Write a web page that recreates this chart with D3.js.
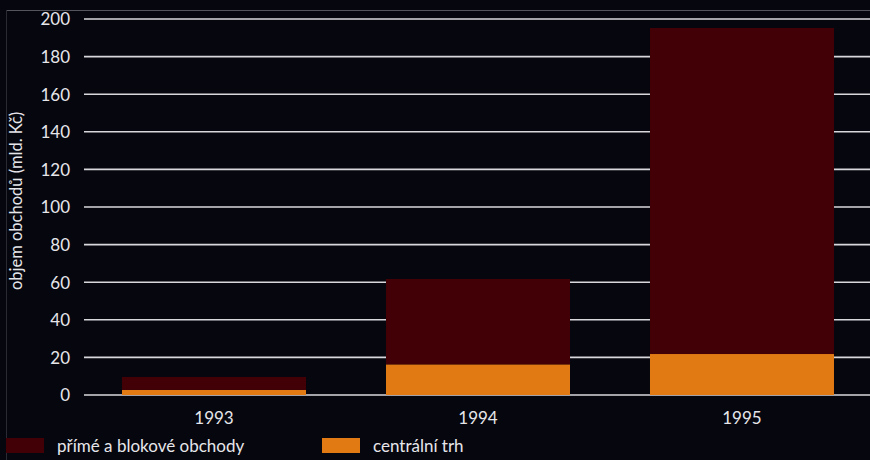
<!DOCTYPE html>
<html>
<head>
<meta charset="utf-8">
<script src="https://cdnjs.cloudflare.com/ajax/libs/d3/7.8.5/d3.min.js"></script>
<style>
  html, body { margin: 0; padding: 0; background: #06060f; }
  svg { display: block; }
  text { font-family: "Lato", "Noto Sans", sans-serif; fill: #e6e6ea; }
</style>
</head>
<body>
<div id="chart"></div>
<script>
// data
var years = ["1993", "1994", "1995"];
var centralni = [2.7, 16.3, 21.8];
var prime = [6.9, 45.4, 173.4];
var seriesNames = ["přímé a blokové obchody", "centrální trh"];
var seriesColors = ["#420006", "#e27a14"];
var yTicks = [0, 20, 40, 60, 80, 100, 120, 140, 160, 180, 200];

var W = 870, H = 460;
var svg = d3.select("#chart").append("svg")
    .attr("width", W)
    .attr("height", H);

svg.append("rect").attr("width", W).attr("height", H).attr("fill", "#06060f");

// thin frame lines top / left
svg.append("line").attr("x1", 6).attr("x2", W).attr("y1", 10.5).attr("y2", 10.5)
    .attr("stroke", "#55555e").attr("stroke-width", 1);
svg.append("line").attr("x1", 6.5).attr("x2", 6.5).attr("y1", 10).attr("y2", H)
    .attr("stroke", "#2a2a34").attr("stroke-width", 1);

var x = d3.scaleBand()
    .domain(years)
    .range([84, 872])
    .paddingInner(0.303)
    .paddingOuter(0.144);

var y = d3.scaleLinear()
    .domain([0, 200])
    .range([395, 19]);

// gridlines
svg.append("g")
    .selectAll("line")
    .data(yTicks)
    .enter()
    .append("line")
    .attr("x1", 84).attr("x2", W)
    .attr("y1", d => y(d)).attr("y2", d => y(d))
    .attr("stroke", "#d8d8dc")
    .attr("stroke-width", 1.6);

// y axis labels
var yAxis = d3.axisLeft(y).tickValues(yTicks).tickSize(0).tickPadding(0);
var gy = svg.append("g").attr("transform", "translate(70,0)").call(yAxis);
gy.select(".domain").remove();
gy.selectAll("text")
    .attr("font-size", 17)
    .attr("dy", "0.35em")
    .style("font-family", '"Lato", "Noto Sans", sans-serif')
    .attr("fill", "#e6e6ea");

// stacked bars
var stackData = years.map((yr, i) => ({ year: yr, centralni: centralni[i], prime: prime[i] }));
var stack = d3.stack().keys(["centralni", "prime"]);
var layers = stack(stackData);
var layerColors = { centralni: seriesColors[1], prime: seriesColors[0] };

svg.append("g")
    .selectAll("g")
    .data(layers)
    .enter()
    .append("g")
    .attr("fill", d => layerColors[d.key])
    .selectAll("rect")
    .data(d => d)
    .enter()
    .append("rect")
    .attr("x", d => x(d.data.year))
    .attr("width", x.bandwidth())
    .attr("y", d => y(d[1]))
    .attr("height", d => y(d[0]) - y(d[1]));

// x labels
svg.append("g")
    .selectAll("text")
    .data(years)
    .enter()
    .append("text")
    .attr("x", d => x(d) + x.bandwidth() / 2)
    .attr("y", 424)
    .attr("text-anchor", "middle")
    .attr("font-size", 17)
    .text(d => d);

// y title
svg.append("text")
    .attr("transform", "translate(22,201)rotate(-90)")
    .attr("text-anchor", "middle")
    .attr("font-size", 16.5)
    .text("objem obchodů (mld. Kč)");

// legend
var legendX = [6, 322];
var legend = svg.append("g")
    .selectAll("g")
    .data(seriesNames)
    .enter()
    .append("g")
    .attr("transform", (d, i) => `translate(${legendX[i]},438)`);

legend.append("rect")
    .attr("width", 38)
    .attr("height", 15)
    .attr("fill", (d, i) => seriesColors[i]);

legend.append("text")
    .attr("x", 51)
    .attr("y", 14)
    .attr("font-size", 17)
    .text(d => d);
</script>
</body>
</html>
